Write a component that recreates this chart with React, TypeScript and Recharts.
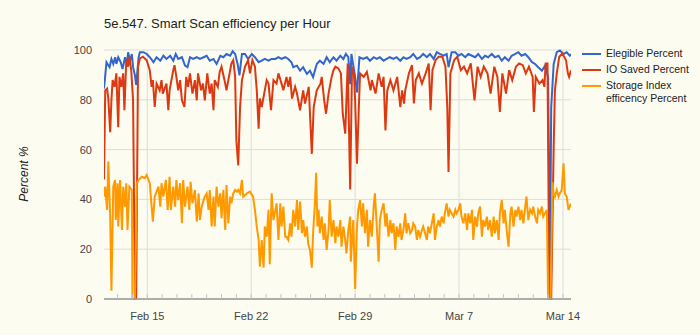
import React from 'react';
import { LineChart, Line, XAxis, YAxis, CartesianGrid, ReferenceLine } from 'recharts';

// x = hours since Feb 12 2016 00:00
const eligibleHours = [
  2, 6, 11, 14, 17, 20, 22, 25, 29, 32, 36, 39, 41, 44, 47, 49, 52, 54, 58, 60,
  66, 71, 76, 82, 87, 93, 98, 103, 109, 114, 118, 122, 128, 133, 137, 141, 146, 152, 157, 163,
  168, 173, 179, 184, 190, 195, 200, 206, 210, 214, 218, 221, 225, 230, 235, 241, 246, 252, 257, 262,
  268, 273, 279, 284, 289, 295, 300, 305, 308, 314, 319, 324, 330, 335, 340, 346, 351, 357, 362, 367,
  373, 378, 384, 389, 393, 397, 400, 402, 408, 411, 415, 421, 427, 432, 438, 443, 448, 454, 459, 464,
  470, 475, 481, 486, 491, 497, 502, 508, 513, 518, 524, 529, 535, 540, 545, 551, 556, 559, 564, 570,
  575, 580, 586, 591, 597, 602, 607, 613, 618, 623, 629, 634, 640, 645, 650, 656, 661, 667, 672, 677,
  683, 688, 694, 699, 704, 710, 715, 720, 723, 725, 729, 734, 739, 745, 750, 755, 757,
];
const eligiblePct = [
  84.5, 95.1, 93.1, 96.4, 94.4, 97.1, 94.4, 97.1, 95.1, 92.4, 97.1, 94.4, 99.1, 95.7, 98.4, 93.1, 89.8, 86, 97.1, 99.1,
  99.1, 98.4, 97.1, 95.1, 97.1, 95.7, 97.7, 96.4, 97.7, 95.7, 98.4, 96.4, 97.1, 93.7, 93.1, 97.1, 96.4, 97.1, 96.4, 97.1,
  97.7, 95.7, 96.4, 94.4, 97.7, 97.1, 98.4, 97.7, 99.5, 98.4, 94.4, 89.8, 98.4, 98.4, 96.4, 98.4, 97.1, 95.1, 95.7, 96.4,
  95.7, 96.4, 96.4, 97.1, 96.4, 97.1, 96.4, 95.1, 93.1, 93.7, 91.7, 93.1, 90.4, 91.7, 89.1, 94.4, 95.7, 94.4, 97.1, 95.1,
  97.1, 95.7, 97.7, 96.4, 98.4, 97.1, 86.3, 98.4, 89.1, 83, 97.1, 96.4, 97.1, 95.7, 97.1, 96.4, 97.1, 95.7, 96.4, 97.1,
  96.4, 97.1, 95.7, 97.1, 96.4, 97.1, 98.4, 96.4, 97.1, 98.4, 97.1, 98.4, 96.4, 99.1, 98.4, 97.7, 98.4, 93.1, 99.1, 99.1,
  97.7, 98.4, 97.1, 98.4, 97.7, 97.1, 98.4, 96.4, 97.7, 97.1, 98.4, 97.1, 97.7, 95.7, 97.1, 95.7, 97.7, 98.4, 99.1, 97.7,
  98.4, 97.1, 95.1, 94.4, 93.1, 91.7, 93.7, 89.1, 10.5, 77, 94.4, 99.1, 99.8, 98.4, 99.1, 97.7, 98.4,
];

const ioSavedHours = [
  2, 4, 7, 9, 12, 14, 16, 19, 22, 25, 27, 30, 33, 35, 38, 41, 43, 46, 49, 52,
  54, 57, 60, 65, 71, 76, 79, 81, 84, 87, 92, 95, 97, 103, 106, 108, 114, 116, 119, 122,
  125, 128, 132, 135, 138, 141, 145, 149, 152, 154, 159, 162, 165, 169, 173, 176, 179, 181, 186, 189,
  192, 198, 200, 203, 208, 211, 214, 216, 219, 222, 225, 230, 235, 238, 242, 246, 249, 252, 254, 257,
  260, 265, 268, 272, 276, 281, 284, 289, 292, 297, 300, 303, 306, 311, 314, 316, 319, 324, 327, 333,
  335, 338, 341, 346, 352, 354, 358, 361, 365, 370, 373, 376, 381, 385, 388, 392, 396, 400, 403, 406,
  408, 411, 414, 416, 422, 427, 433, 435, 441, 446, 451, 454, 457, 460, 465, 470, 476, 481, 484, 487,
  489, 495, 500, 503, 506, 511, 516, 522, 527, 530, 533, 538, 543, 549, 554, 557, 559, 562, 568, 573,
  579, 584, 589, 595, 601, 606, 611, 616, 622, 627, 633, 638, 642, 646, 652, 657, 662, 668, 673, 679,
  684, 689, 695, 697, 700, 706, 711, 714, 716, 719, 722, 725, 729, 731, 734, 738, 743, 749, 752, 754,
  757,
];
const ioSavedPct = [
  48, 83.8, 84.5, 80.5, 67, 79.8, 87.9, 85.2, 90.6, 69, 89.2, 85.2, 90.6, 75.8, 95.9, 93.3, 97.3, 91.9, 79.8, 2,
  0, 93.3, 96.6, 97.3, 95.9, 91.9, 85.2, 87.9, 77.1, 86.5, 83.8, 87.9, 82.5, 86.5, 75.8, 83.8, 91.9, 93.9, 89.2, 83.8,
  87.9, 79.8, 77.1, 89.2, 85.2, 90.6, 82.5, 87.9, 79.8, 90.6, 83.8, 86.5, 79.8, 90.6, 82.5, 86.5, 75.8, 87.9, 85.2, 91.2,
  93.3, 86.5, 83.8, 87.9, 94.6, 95.9, 89.2, 63.7, 53.6, 77.1, 87.9, 93.3, 95.9, 90.6, 95.9, 93.3, 83.8, 68.4, 80.5, 77.1,
  81.2, 87.9, 86.5, 75.8, 87.9, 86.5, 90.6, 86.5, 83.8, 89.2, 85.2, 89.2, 80.5, 85.2, 82.5, 79.8, 75.8, 83.8, 78.5, 85.2,
  74.4, 58.3, 77.1, 83.8, 86.5, 89.2, 79.8, 74.4, 82.5, 89.2, 91.9, 93.3, 92.6, 90.6, 74.4, 66.4, 94.6, 44, 93.3, 90.6,
  79.8, 54.3, 77.1, 90.6, 89.2, 91.2, 83.8, 87.9, 82.5, 90.6, 85.2, 89.2, 67.7, 83.8, 87.9, 83.8, 89.2, 77.1, 83.8, 78.5,
  83.8, 90.6, 93.9, 78.5, 87.9, 90.6, 86.5, 90.6, 94.6, 75.8, 91.9, 95.9, 97.3, 97.3, 93.3, 77.1, 51, 90.6, 95.9, 97.3,
  91.9, 93.3, 90.6, 94.6, 79.8, 93.3, 89.2, 93.3, 90.6, 82.5, 93.3, 89.2, 75.1, 90.6, 82.5, 91.9, 87.9, 93.3, 94.6, 93.9,
  90.6, 93.3, 89.2, 75.1, 89.2, 86.5, 87.9, 85.2, 94.6, 94.6, 0, 0, 61, 83.8, 90.6, 97.3, 98.6, 95.9, 90.6, 89.2,
  91.9,
];

const storageHours = [
  2, 4, 7, 9, 12, 14, 17, 20, 21, 24, 25, 28, 31, 33, 36, 38, 40, 43, 47, 48,
  52, 55, 58, 63, 68, 71, 76, 79, 81, 84, 90, 93, 95, 98, 102, 105, 108, 110, 114, 117,
  119, 122, 125, 128, 130, 133, 137, 140, 142, 145, 149, 152, 155, 157, 160, 163, 165, 168, 171, 173,
  176, 179, 181, 184, 187, 190, 192, 195, 198, 200, 203, 206, 208, 211, 214, 217, 219, 222, 225, 227,
  233, 238, 243, 246, 249, 252, 254, 257, 260, 262, 265, 268, 270, 273, 276, 278, 281, 284, 287, 289,
  292, 295, 297, 300, 303, 305, 308, 311, 314, 316, 319, 322, 324, 327, 330, 332, 335, 338, 340, 343,
  345, 347, 349, 351, 354, 357, 359, 362, 365, 367, 370, 373, 376, 378, 381, 384, 386, 389, 392, 394,
  397, 400, 401, 405, 408, 411, 413, 416, 419, 421, 424, 427, 429, 432, 435, 438, 440, 443, 446, 448,
  451, 454, 457, 459, 462, 465, 467, 470, 473, 475, 478, 481, 483, 486, 489, 491, 494, 497, 500, 502,
  505, 508, 510, 513, 516, 518, 521, 524, 526, 529, 532, 535, 537, 540, 543, 545, 548, 551, 553, 556,
  559, 561, 564, 567, 570, 572, 575, 578, 580, 583, 586, 589, 591, 594, 597, 599, 602, 605, 607, 610,
  613, 615, 618, 621, 623, 626, 629, 632, 634, 637, 640, 642, 645, 648, 650, 653, 656, 659, 661, 664,
  667, 669, 672, 675, 677, 680, 683, 685, 688, 691, 694, 696, 699, 702, 704, 707, 710, 712, 715, 718,
  720, 724, 727, 729, 731, 734, 737, 739, 742, 745, 747, 750, 753, 755, 757,
];
const storagePct = [
  41.1, 45.1, 35.8, 55.2, 33.1, 3.3, 45.1, 47.8, 31.7, 46.5, 29.1, 47.8, 27.7, 45.1, 37.1, 46.5, 27.7, 45.1, 43.8, 0,
  0, 46.5, 47.8, 49.1, 48.5, 49.8, 46.5, 37.1, 31.1, 41.1, 45.1, 37.1, 46.5, 41.1, 47.8, 35.8, 49.1, 35.8, 45.1, 37.1,
  47.8, 39.7, 46.5, 30.4, 47.8, 37.1, 45.1, 35.8, 47.1, 38.4, 43.8, 31.1, 42.4, 31.7, 37.1, 39.7, 41.1, 42.4, 35.8, 43.8,
  29.1, 41.1, 29.1, 45.1, 37.1, 42.4, 32.4, 43.8, 27.7, 45.8, 30.4, 41.1, 38.4, 42.4, 43.8, 43.1, 43.8, 42.4, 47.8, 41.1,
  42.4, 43.1, 41.1, 35.8, 29.1, 23.7, 13, 23.7, 12.6, 29.1, 25, 35.8, 14, 42.4, 31.7, 34.4, 38.4, 23.7, 38.4, 29.1,
  37.1, 25, 25, 23.7, 30.4, 25, 35.8, 29.1, 39.7, 27.7, 39.1, 26.4, 31.7, 25, 29.1, 22.4, 19.7, 12.6, 26.4, 38.4,
  50.7, 29.1, 35.8, 26.4, 33.1, 23.7, 30.4, 19.7, 27.7, 39.7, 25, 31.7, 22.4, 29.1, 25, 31.7, 21, 29.1, 23.7, 18.3,
  27.7, 33.1, 15, 31.7, 4, 29.1, 35.8, 39.7, 29.1, 38.4, 26.4, 35.8, 21, 31.7, 25, 37.1, 42.4, 29.1, 15, 31.7,
  35.8, 38.4, 29.1, 34.4, 25, 31.7, 26.4, 30.4, 19.7, 29.1, 25, 30.4, 23.7, 27.7, 34.4, 26.4, 30.4, 26.4, 27.7, 30.4,
  29.1, 23.7, 27.7, 25, 27.7, 29.1, 26.4, 23.7, 29.1, 26.4, 30.4, 34.4, 23.7, 29.1, 31.7, 29.1, 33.1, 30.4, 34.4, 38.4,
  33.1, 35.8, 34.4, 33.1, 35.8, 34.4, 35.8, 38.4, 33.1, 30.4, 34.4, 27.7, 34.4, 30.4, 35.8, 23.7, 33.1, 29.1, 34.4, 37.1,
  25, 31.7, 29.1, 33.1, 27.7, 31.7, 25, 33.1, 26.4, 31.7, 23.7, 34.4, 39.7, 30.4, 35.8, 27.7, 21, 34.4, 37.1, 29.1,
  35.8, 33.1, 37.1, 31.7, 35.8, 30.4, 37.1, 41.1, 31.7, 35.8, 34.4, 37.1, 33.1, 30.4, 35.8, 34.4, 37.1, 33.1, 34.4, 35.8,
  0, 0, 47, 42.4, 41.1, 43.8, 41.1, 42.4, 43.8, 54.5, 42.4, 41.1, 35.8, 37.1, 38.4,
];

const yTicks = [0, 20, 40, 60, 80, 100];
const weekTicks = [72, 240, 408, 576, 744];
const weekLabels = ['Feb 15', 'Feb 22', 'Feb 29', 'Mar 7', 'Mar 14'];
const dayTicks = Array.from({ length: 31 }, (_, i) => 24 * (i + 1)); // Feb 13 .. Mar 14

const series = [
  { name: 'Elegible Percent', color: '#3366cc', hours: eligibleHours, values: eligiblePct },
  { name: 'IO Saved Percent', color: '#dc3912', hours: ioSavedHours, values: ioSavedPct },
  { name: 'Storage Index efficency Percent', color: '#ff9900', hours: storageHours, values: storagePct },
];

const toPoints = (hours: number[], values: number[]) => hours.map((h, i) => ({ h, v: values[i] }));

const dayLabel = (h: number) => {
  const k = weekTicks.indexOf(h);
  return k >= 0 ? weekLabels[k] : '';
};

export default function App() {
  return (
    <div
      style={{
        position: 'absolute',
        left: 0,
        top: 0,
        width: 700,
        height: 335,
        background: '#fdfcf0',
        fontFamily: 'Arial, "Liberation Sans", sans-serif',
      }}
    >
      <div style={{ position: 'absolute', left: 104, top: 16, fontSize: 13, color: '#222', whiteSpace: 'nowrap' }}>
        5e.547. Smart Scan efficiency per Hour
      </div>
      <div
        style={{
          position: 'absolute',
          left: 24,
          top: 174,
          transform: 'translate(-50%, -50%) rotate(-90deg)',
          fontSize: 12,
          fontStyle: 'italic',
          color: '#222',
          whiteSpace: 'nowrap',
        }}
      >
        Percent %
      </div>

      <LineChart width={700} height={335} margin={{ top: 50, right: 129, bottom: 6, left: 0 }}>
        <CartesianGrid vertical={false} stroke="#dcdcdc" />
        {weekTicks.map((t) => (
          <ReferenceLine key={t} x={t} stroke="#dcdcdc" />
        ))}
        <XAxis
          type="number"
          dataKey="h"
          domain={[2, 757]}
          allowDataOverflow
          ticks={dayTicks}
          interval={0}
          tickFormatter={dayLabel}
          tickSize={-5}
          tickMargin={18}
          tickLine={{ stroke: '#c4c4c4' }}
          axisLine={{ stroke: '#999', strokeWidth: 1.5 }}
          tick={{ fill: '#444', fontSize: 11 }}
          height={30}
        />
        <YAxis
          type="number"
          domain={[0, 100]}
          ticks={yTicks}
          axisLine={false}
          tickLine={false}
          tickMargin={6}
          width={104}
          tick={{ fill: '#444', fontSize: 11 }}
        />
        {series.map((s) => (
          <Line
            key={s.name}
            data={toPoints(s.hours, s.values)}
            dataKey="v"
            name={s.name}
            type="linear"
            stroke={s.color}
            strokeWidth={2}
            dot={false}
            isAnimationActive={false}
          />
        ))}
      </LineChart>

      <div style={{ position: 'absolute', left: 582, top: 47, fontSize: 10.5, color: '#222' }}>
        {series.map((s) => (
          <div key={s.name} style={{ display: 'flex', alignItems: 'flex-start', marginBottom: 3 }}>
            <div style={{ width: 19, height: 2, background: s.color, marginTop: 6, marginRight: 5 }} />
            <div style={{ width: 92, lineHeight: '13px' }}>{s.name}</div>
          </div>
        ))}
      </div>
    </div>
  );
}
